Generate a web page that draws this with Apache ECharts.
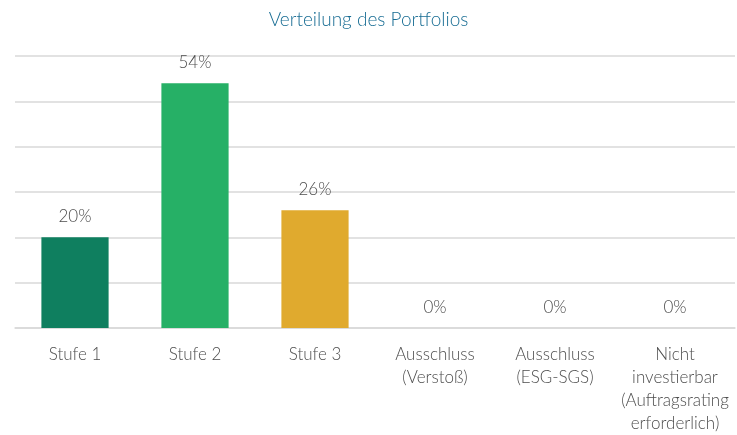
<!DOCTYPE html>
<html>
<head>
<meta charset="utf-8">
<script src="https://cdn.jsdelivr.net/npm/echarts@6/dist/echarts.min.js"></script>
<style>
  html, body { margin: 0; padding: 0; background: #fff; }
  #chart { width: 737px; height: 435px; }
</style>
</head>
<body>
<div id="chart"></div>
<script>
  // Kategorien und Anteile (in %)
  const categories = ['Stufe 1', 'Stufe 2', 'Stufe 3', 'Ausschluss\n(Verstoß)', 'Ausschluss\n(ESG-SGS)', 'Nicht\ninvestierbar\n(Auftragsrating\nerforderlich)']
  const shares = [20, 54, 26, 0, 0, 0]
  const barColors = ['#0f7f5f', '#26b066', '#e0aa2e', '#e0aa2e', '#e0aa2e', '#e0aa2e']

  const fontFamily = 'Lato, "Open Sans", sans-serif'
  const chart = echarts.init(document.getElementById('chart'))

  chart.setOption({
    animation: false,
    title: {
      text: 'Verteilung des Portfolios',
      left: 'center',
      top: 5,
      textStyle: {color: '#176c93', fontSize: 19, fontWeight: 300, fontFamily: fontFamily}
    },
    grid: {left: 15, right: 2, top: 56, bottom: 105},
    xAxis: {
      type: 'category',
      data: categories,
      axisLine: {lineStyle: {color: '#d9d9d9', width: 1.5}},
      axisTick: {show: false},
      axisLabel: {
        color: '#4d4d4d',
        fontSize: 17,
        fontWeight: 300,
        fontFamily: fontFamily,
        lineHeight: 23,
        margin: 15,
        interval: 0
      }
    },
    yAxis: {
      type: 'value',
      min: 0,
      max: 60,
      interval: 10,
      axisLabel: {show: false},
      axisLine: {show: false},
      axisTick: {show: false},
      splitLine: {lineStyle: {color: '#d9d9d9', width: 1.5}}
    },
    series: [{
      type: 'bar',
      barWidth: '56%',
      data: shares.map((v, i) => ({value: v, itemStyle: {color: barColors[i]}})),
      label: {
        show: true,
        position: 'top',
        distance: 12,
        formatter: '{c}%',
        color: '#4d4d4d',
        fontSize: 17,
        fontWeight: 300,
        fontFamily: fontFamily
      }
    }]
  })
</script>
</body>
</html>
